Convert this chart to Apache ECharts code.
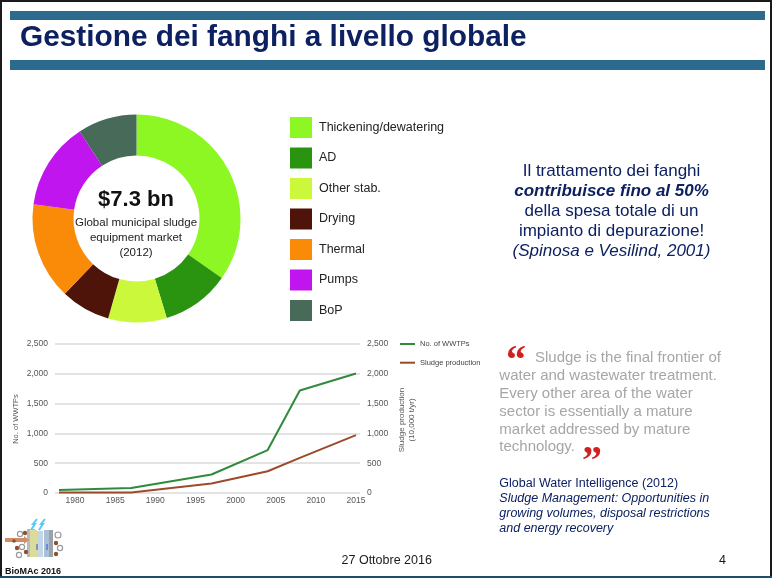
<!DOCTYPE html>
<html>
<head>
<meta charset="utf-8">
<title>Gestione dei fanghi a livello globale</title>
<script src="https://cdn.jsdelivr.net/npm/echarts@6/dist/echarts.min.js"></script>
<style>
  html, body { margin: 0; padding: 0; background: #fff; }
  #chart { width: 772px; height: 578px; }
</style>
</head>
<body>
<div id="chart"></div>
<script>
// Market split of sludge equipment (share of $7.3 bn, 2012)
const pieCategories = ['Thickening/dewatering', 'AD', 'Other stab.', 'Drying', 'Thermal', 'Pumps', 'BoP'];
const pieShares = [34.7, 10.6, 9.1, 7.7, 15.1, 13.6, 9.2];
const pieColors = ['#8cf722', '#2a9310', '#ccf83c', '#4e1309', '#f98b08', '#c015ee', '#476a59'];

// Growth of WWTPs and sludge production
const years = [1978, 1987, 1997, 2004, 2008, 2015];
const wwtpCount = [50, 85, 310, 720, 1720, 2005];
const sludgeProduction = [8, 10, 160, 365, 590, 970];
const yearTicks = [1980, 1985, 1990, 1995, 2000, 2005, 2010, 2015];
const lineSeriesNames = ['No. of WWTPs', 'Sludge production'];
const lineColors = ['#2f8a3b', '#9b4b2b'];

const NAVY = '#0d2162';
const BAR = '#2c6a8e';
const SANS = '"Liberation Sans", Arial, sans-serif';

function txt(x, y, text, opts) {
  opts = opts || {};
  const align = opts.align || 'left';
  return {
    type: 'text',
    x: x, y: y,
    rotation: opts.rotation || 0,
    style: {
      text: text,
      font: opts.font || ('12px ' + SANS),
      fill: opts.fill || '#222',
      textAlign: align, align: align,
      textVerticalAlign: 'middle', verticalAlign: 'middle'
    },
    silent: true
  };
}

const chart = echarts.init(document.getElementById('chart'), null, { renderer: 'canvas' });

const graphics = [
  // slide frame
  { type: 'rect', shape: { x: 1, y: 1, width: 770, height: 576 }, style: { fill: 'none', stroke: '#1a1a1a', lineWidth: 2 }, silent: true },
  { type: 'line', shape: { x1: 0, y1: 577, x2: 772, y2: 577 }, style: { stroke: '#1f4e6a', lineWidth: 2 }, silent: true },
  // title bars
  { type: 'rect', shape: { x: 10, y: 11, width: 755, height: 9 }, style: { fill: BAR }, silent: true },
  { type: 'rect', shape: { x: 10, y: 60, width: 755, height: 10 }, style: { fill: BAR }, silent: true },
  txt(20, 38, 'Gestione dei fanghi a livello globale', { font: 'bold 29.8px ' + SANS, fill: NAVY }),

  // donut centre
  txt(136, 200, '$7.3 bn', { font: 'bold 22px ' + SANS, fill: '#111', align: 'center' }),
  txt(136, 223, 'Global municipal sludge', { font: '11.5px ' + SANS, fill: '#222', align: 'center' }),
  txt(136, 238, 'equipment market', { font: '11.5px ' + SANS, fill: '#222', align: 'center' }),
  txt(136, 253, '(2012)', { font: '11.5px ' + SANS, fill: '#222', align: 'center' }),

  // statement on the right
  txt(611.5, 171.7, 'Il trattamento dei fanghi', { font: '17px ' + SANS, fill: NAVY, align: 'center' }),
  txt(611.5, 191.5, 'contribuisce fino al 50%', { font: 'italic bold 17px ' + SANS, fill: NAVY, align: 'center' }),
  txt(611.5, 211.5, 'della spesa totale di un', { font: '17px ' + SANS, fill: NAVY, align: 'center' }),
  txt(611.5, 231.5, 'impianto di depurazione!', { font: '17px ' + SANS, fill: NAVY, align: 'center' }),
  txt(611.5, 251.5, '(Spinosa e Vesilind, 2001)', { font: 'italic 17px ' + SANS, fill: NAVY, align: 'center' }),

  // axis titles of the line chart
  txt(16, 419, 'No. of WWTPs', { font: '7.5px ' + SANS, fill: '#555', align: 'center', rotation: Math.PI / 2 }),
  txt(401.5, 420, 'Sludge production', { font: '8px ' + SANS, fill: '#555', align: 'center', rotation: Math.PI / 2 }),
  txt(412, 420, '(10,000 t/yr)', { font: '8px ' + SANS, fill: '#555', align: 'center', rotation: Math.PI / 2 }),

  // quotation
  txt(506, 363, '\u201C', { font: 'bold 40px "Liberation Serif", serif', fill: '#d02020' }),
  txt(535, 358.3, 'Sludge is the final frontier of', { font: '15px ' + SANS, fill: '#a6a6a6' }),
  txt(499.3, 376.1, 'water and wastewater treatment.', { font: '15px ' + SANS, fill: '#a6a6a6' }),
  txt(499.3, 393.9, 'Every other area of the water', { font: '15px ' + SANS, fill: '#a6a6a6' }),
  txt(499.3, 411.7, 'sector is essentially a mature', { font: '15px ' + SANS, fill: '#a6a6a6' }),
  txt(499.3, 429.5, 'market addressed by mature', { font: '15px ' + SANS, fill: '#a6a6a6' }),
  txt(499.3, 447.3, 'technology.', { font: '15px ' + SANS, fill: '#a6a6a6' }),
  txt(582, 463, '\u201D', { font: 'bold 40px "Liberation Serif", serif', fill: '#d02020' }),

  txt(499.3, 483.3, 'Global Water Intelligence (2012)', { font: '12.5px ' + SANS, fill: NAVY }),
  txt(499.3, 498.3, 'Sludge Management: Opportunities in', { font: 'italic 12.5px ' + SANS, fill: NAVY }),
  txt(499.3, 513.5, 'growing volumes, disposal restrictions', { font: 'italic 12.5px ' + SANS, fill: NAVY }),
  txt(499.3, 528.8, 'and energy recovery', { font: 'italic 12.5px ' + SANS, fill: NAVY }),

  // footer
  txt(386.7, 561, '27 Ottobre 2016', { font: '12.5px ' + SANS, fill: '#1a1a1a', align: 'center' }),
  txt(722.5, 561, '4', { font: '12.5px ' + SANS, fill: '#1a1a1a', align: 'center' }),

  // BioMAc logo
  { type: 'group', silent: true, children: [
    { type: 'polyline', shape: { points: [[31, 530], [35, 524], [33, 524], [37, 519]] }, style: { stroke: '#5cc8f2', lineWidth: 2, fill: 'none' } },
    { type: 'polyline', shape: { points: [[39, 530], [43, 524], [41, 524], [45, 519]] }, style: { stroke: '#5cc8f2', lineWidth: 2, fill: 'none' } },
    { type: 'rect', shape: { x: 27, y: 529, width: 8, height: 28 }, style: { fill: '#b9b9b9' } },
    { type: 'rect', shape: { x: 30, y: 530, width: 7, height: 27 }, style: { fill: '#d9dc9a' } },
    { type: 'rect', shape: { x: 37, y: 531, width: 6, height: 26 }, style: { fill: '#c4d6e6' } },
    { type: 'rect', shape: { x: 44, y: 530, width: 8, height: 27 }, style: { fill: '#a9c0d6' } },
    { type: 'rect', shape: { x: 49, y: 530, width: 4, height: 27 }, style: { fill: '#9aa1a8' } },
    { type: 'line', shape: { x1: 37, y1: 550, x2: 37, y2: 544 }, style: { stroke: '#2a56c8', lineWidth: 1 } },
    { type: 'line', shape: { x1: 47, y1: 550, x2: 47, y2: 544 }, style: { stroke: '#2a56c8', lineWidth: 1 } },
    { type: 'polygon', shape: { points: [[5, 538], [24, 538], [24, 536], [29, 540], [24, 544], [24, 542], [5, 542]] }, style: { fill: '#cf8d6a' } },
    { type: 'circle', shape: { cx: 20, cy: 534, r: 2.6 }, style: { fill: '#fff', stroke: '#9a9a9a', lineWidth: 1.2 } },
    { type: 'circle', shape: { cx: 25, cy: 533, r: 2.2 }, style: { fill: '#8a5234' } },
    { type: 'circle', shape: { cx: 17, cy: 548, r: 2.2 }, style: { fill: '#8a5234' } },
    { type: 'circle', shape: { cx: 22, cy: 547, r: 2.6 }, style: { fill: '#fff', stroke: '#9a9a9a', lineWidth: 1.2 } },
    { type: 'circle', shape: { cx: 26, cy: 552, r: 2.2 }, style: { fill: '#8a5234' } },
    { type: 'circle', shape: { cx: 19, cy: 555, r: 2.6 }, style: { fill: '#fff', stroke: '#9a9a9a', lineWidth: 1.2 } },
    { type: 'circle', shape: { cx: 14, cy: 541, r: 1.8 }, style: { fill: '#8a5234' } },
    { type: 'circle', shape: { cx: 58, cy: 535, r: 3 }, style: { fill: '#fff', stroke: '#9a9a9a', lineWidth: 1.2 } },
    { type: 'circle', shape: { cx: 56, cy: 543, r: 2.2 }, style: { fill: '#8a5234' } },
    { type: 'circle', shape: { cx: 60, cy: 548, r: 2.6 }, style: { fill: '#fff', stroke: '#9a9a9a', lineWidth: 1.2 } },
    { type: 'circle', shape: { cx: 56, cy: 554, r: 2.2 }, style: { fill: '#8a5234' } }
  ] },
  txt(5, 571.5, 'BioMAc 2016', { font: 'bold 9px ' + SANS, fill: '#111' })
];

const option = {
  animation: false,
  backgroundColor: '#fff',
  legend: [
    {
      data: pieCategories,
      orient: 'vertical',
      left: 290, top: 117,
      padding: 0,
      icon: 'rect',
      itemWidth: 22, itemHeight: 21, itemGap: 9.5,
      selectedMode: false,
      textStyle: { fontFamily: SANS, fontSize: 12.5, color: '#222', padding: [0, 0, 0, 2] }
    },
    {
      data: lineSeriesNames,
      orient: 'vertical',
      left: 400, top: 339,
      padding: 0,
      icon: 'rect',
      itemWidth: 15, itemHeight: 2, itemGap: 8.7,
      selectedMode: false,
      textStyle: { fontFamily: SANS, fontSize: 7.5, lineHeight: 10, color: '#444' }
    }
  ],
  grid: { left: 55, top: 344, width: 305, height: 149, containLabel: false },
  xAxis: {
    type: 'value',
    min: 1977.5, max: 2015.5,
    axisLine: { show: false },
    axisTick: { show: false },
    splitLine: { show: false },
    axisLabel: {
      customValues: yearTicks,
      margin: 3,
      fontFamily: SANS, fontSize: 8.5, color: '#555',
      formatter: v => String(v)
    }
  },
  yAxis: [
    {
      type: 'value', min: 0, max: 2500, interval: 500,
      axisLine: { show: false }, axisTick: { show: false },
      splitLine: { lineStyle: { color: '#dadada', width: 1.5 } },
      axisLabel: { margin: 7, fontFamily: SANS, fontSize: 8.5, color: '#555', formatter: v => v.toLocaleString('en-US') }
    },
    {
      type: 'value', min: 0, max: 2500, interval: 500, position: 'right',
      axisLine: { show: false }, axisTick: { show: false },
      splitLine: { show: false },
      axisLabel: { margin: 7, fontFamily: SANS, fontSize: 8.5, color: '#555', formatter: v => v.toLocaleString('en-US') }
    }
  ],
  series: [
    {
      type: 'pie',
      center: [136.5, 218.5],
      radius: [63, 104],
      startAngle: 90,
      clockwise: true,
      label: { show: false },
      labelLine: { show: false },
      emphasis: { disabled: true },
      itemStyle: { borderWidth: 0 },
      data: pieCategories.map((name, i) => ({ name: name, value: pieShares[i], itemStyle: { color: pieColors[i] } }))
    },
    {
      name: lineSeriesNames[0],
      type: 'line',
      yAxisIndex: 0,
      symbol: 'none',
      lineStyle: { width: 2, color: lineColors[0] },
      itemStyle: { color: lineColors[0] },
      data: years.map((y, i) => [y, wwtpCount[i]])
    },
    {
      name: lineSeriesNames[1],
      type: 'line',
      yAxisIndex: 1,
      symbol: 'none',
      lineStyle: { width: 2, color: lineColors[1] },
      itemStyle: { color: lineColors[1] },
      data: years.map((y, i) => [y, sludgeProduction[i]])
    }
  ],
  graphic: { elements: graphics }
};

chart.setOption(option);
</script>
</body>
</html>
